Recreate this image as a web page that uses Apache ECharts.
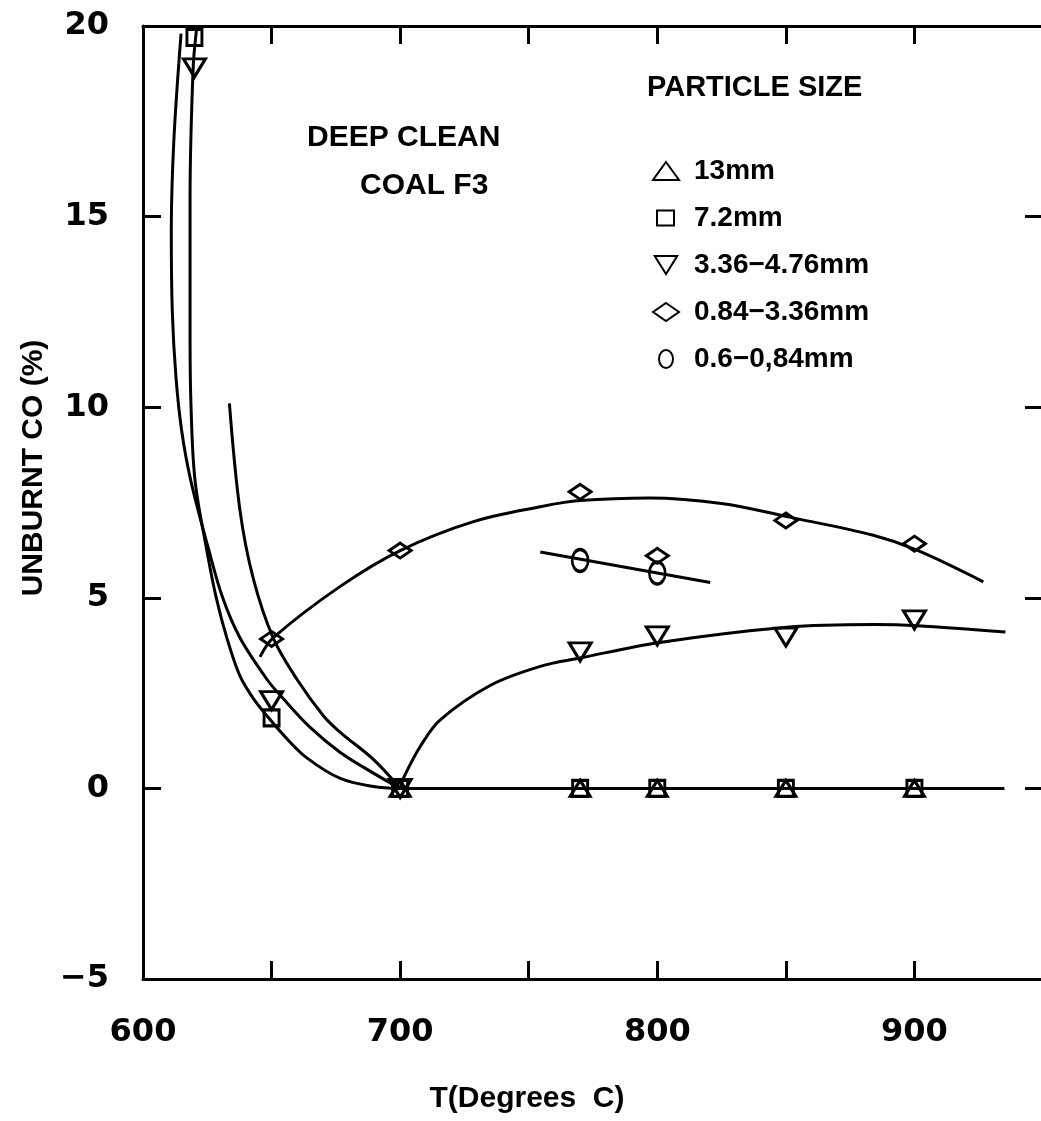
<!DOCTYPE html>
<html lang="en">

<head>
  <meta charset="UTF-8">
  <title>Unburnt CO vs temperature</title>
  <script src="https://cdn.jsdelivr.net/npm/echarts@6/dist/echarts.min.js"></script>
  <style>
    html, body { margin: 0; padding: 0; background: #fff; }
  </style>
</head>

<body>
  <div id="chart" style="height: 1121px; width: 1041px;"></div>
</body>
<script>
  // particle size classes (legend order)
  const sizeNames = ['13mm', '7.2mm', '3.36−4.76mm', '0.84−3.36mm', '0.6−0,84mm']

  // measured points [T, unburnt CO %]
  const triPts = [[700, 0], [770, 0], [800, 0], [850, 0], [900, 0]]
  const sqPts = [[620, 19.7], [650, 1.85], [700, 0], [770, 0], [800, 0], [850, 0], [900, 0]]
  const invPts = [[620, 18.9], [650, 2.3], [700, 0], [770, 3.58], [800, 4.0], [850, 3.97], [900, 4.42]]
  const diaPts = [[650, 3.92], [700, 6.24], [770, 7.78], [800, 6.1], [850, 7.03], [900, 6.42]]
  const cirPts = [[770, 5.98], [800, 5.65]]

  // fitted curves
  const triCurve = [[633.6, 10.1], [637.7, 7.3], [642.9, 5.5], [650.6, 3.95], [659.8, 2.87], [670.2, 1.9],
    [676.7, 1.47], [689.6, 0.76], [700, 0]]
  const triFlat = [[700, 0], [935, 0]]
  const sqCurve = [[620.8, 19.9], [619.5, 18.9], [618.3, 15.5], [618.3, 12], [618.6, 10.2], [620.2, 8.1],
    [624.8, 6.25], [628.5, 5.0], [632.6, 3.95], [637.7, 2.95], [643, 2.35], [649.5, 1.8], [656, 1.3],
    [663.7, 0.8], [676.7, 0.26], [689.6, 0.05], [700, 0]]
  const invDown = [[614.8, 19.8], [612.0, 17], [611.0, 14.6], [611.4, 12.5], [612.8, 10.8], [615.0, 9.4],
    [618.5, 8.1], [625.4, 6.3], [631, 5.0], [637.7, 3.95], [648.1, 2.87], [654.6, 2.35], [665, 1.6],
    [676.6, 0.95], [689.6, 0.4], [700, 0]]
  const invUp = [[700, 0], [701.5, 0.3], [707.8, 1.1], [715.6, 1.8], [735, 2.7], [754.5, 3.2], [770, 3.42],
    [800.9, 3.83], [850.4, 4.23], [884, 4.3], [901, 4.27], [935.4, 4.1]]
  const diaCurve = [[645.5, 3.45], [650.6, 3.95], [676.7, 5.3], [700, 6.24], [728.5, 7.0], [754.5, 7.39],
    [770, 7.55], [797, 7.62], [825.7, 7.47], [850.4, 7.13], [884, 6.64], [901, 6.25], [926.8, 5.42]]
  const cirLine = [[754.5, 6.2], [820.6, 5.4]]

  const xTicks = { min: 600, max: 950, step: 50 }
  const yTicks = { min: -5, max: 20, step: 5 }

  let myCharts = echarts.init(document.getElementById('chart'), null, { renderer: 'canvas' })

  const txt = '"Liberation Sans", Arial, sans-serif'
  const num = '"DejaVu Sans", sans-serif'
  const mark = { color: 'rgba(0,0,0,0)', borderColor: '#000', borderWidth: 3, opacity: 1 }

  function pts(name, data, symbol, size) {
    return {
      type: 'scatter', name: name, data: data, symbol: symbol, symbolSize: size,
      itemStyle: mark, z: 5, silent: true
    }
  }
  function curve(name, data, smooth) {
    return {
      type: 'line', name: name, data: data, smooth: smooth, showSymbol: false, symbol: 'none',
      color: '#000', lineStyle: { color: '#000', width: 3 }, z: 3, silent: true
    }
  }

  const xBase = {
    type: 'value', min: xTicks.min, max: xTicks.max, interval: xTicks.step,
    axisLine: { show: true, onZero: false, lineStyle: { color: '#000', width: 3 } },
    axisTick: { show: true, inside: true, length: 18, lineStyle: { color: '#000', width: 3 } },
    splitLine: { show: false }
  }
  const yBase = {
    type: 'value', min: yTicks.min, max: yTicks.max, interval: yTicks.step,
    axisLine: { show: true, onZero: false, lineStyle: { color: '#000', width: 3 } },
    axisTick: { show: true, inside: true, length: 18, lineStyle: { color: '#000', width: 3 } },
    splitLine: { show: false }
  }

  let option = {
    animation: false,
    backgroundColor: '#fff',
    grid: { left: 143, right: -2, top: 26, bottom: 142, outerBoundsMode: 'none', containLabel: false },
    xAxis: [
      Object.assign({}, xBase, {
        position: 'bottom',
        axisLabel: {
          margin: 38, color: '#000', fontFamily: num, fontSize: 32, fontWeight: 'bold',
          formatter: v => (v % 100 === 0 && v < 950) ? String(v) : ''
        }
      }),
      Object.assign({}, xBase, { position: 'top', axisLabel: { show: false } })
    ],
    yAxis: [
      Object.assign({}, yBase, {
        position: 'left',
        axisLabel: {
          margin: 34, color: '#000', fontFamily: num, fontSize: 32, fontWeight: 'bold',
          formatter: v => v < 0 ? '−' + Math.abs(v) : String(v)
        }
      }),
      Object.assign({}, yBase, { position: 'right', axisLabel: { show: false } })
    ],
    legend: {
      data: [
        { name: sizeNames[0] },
        { name: sizeNames[1], icon: 'path://M0,0M26,18M4,1.5H21V16.5H4Z' },
        { name: sizeNames[2] },
        { name: sizeNames[3] },
        { name: sizeNames[4], icon: 'path://M0,0M26,18M13,0A7,9,0,1,1,13,18A7,9,0,1,1,13,0Z' }
      ],
      orient: 'vertical',
      left: 647, top: 151,
      itemWidth: 26, itemHeight: 18, itemGap: 17,
      selectedMode: false,
      textStyle: {
        color: '#000', fontFamily: txt, fontSize: 28, fontWeight: 'bold', lineHeight: 30,
        padding: [0, 0, 0, 10]
      }
    },
    graphic: [
      { type: 'text', x: 647, y: 88, style: { text: 'PARTICLE SIZE', font: 'bold 29px ' + txt, fill: '#000', verticalAlign: 'middle' } },
      { type: 'text', x: 307, y: 138, style: { text: 'DEEP CLEAN', font: 'bold 30px ' + txt, fill: '#000', verticalAlign: 'middle' } },
      { type: 'text', x: 360, y: 186, style: { text: 'COAL F3', font: 'bold 30px ' + txt, fill: '#000', verticalAlign: 'middle' } },
      { type: 'text', x: 527, y: 1099, style: { text: 'T(Degrees  C)', font: 'bold 30px ' + txt, fill: '#000', align: 'center', verticalAlign: 'middle' } },
      {
        type: 'text', x: 34, y: 468, rotation: Math.PI / 2,
        style: { text: 'UNBURNT CO (%)', font: 'bold 30px ' + txt, fill: '#000', align: 'center', verticalAlign: 'middle' }
      }
    ],
    series: [
      pts(sizeNames[0], triPts, 'triangle', [20, 16]),
      pts(sizeNames[1], sqPts, 'rect', [15, 16]),
      pts(sizeNames[2], invPts, 'path://M0,0L20,0L10,16Z', [22, 18]),
      pts(sizeNames[3], diaPts, 'diamond', [22, 15]),
      pts(sizeNames[4], cirPts, 'path://M8,0A8,11,0,1,1,8,22A8,11,0,1,1,8,0Z', [16, 22]),
      curve(sizeNames[0], triCurve, 0.35),
      curve(sizeNames[0], triFlat, false),
      curve(sizeNames[1], sqCurve, 0.35),
      curve(sizeNames[2], invDown, 0.35),
      curve(sizeNames[2], invUp, 0.35),
      curve(sizeNames[3], diaCurve, 0.35),
      curve(sizeNames[4], cirLine, false)
    ]
  }
  myCharts.setOption(option)
</script>

</html>
